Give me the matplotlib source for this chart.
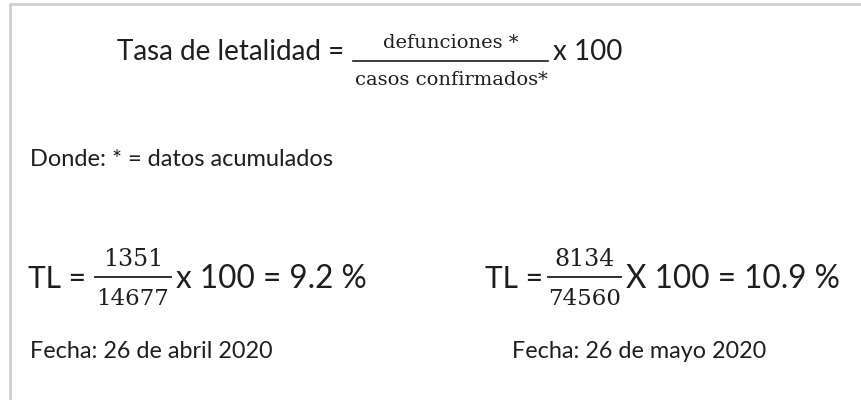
import matplotlib
matplotlib.use("Agg")
import matplotlib.pyplot as plt

# datos (acumulados)
deaths = [1351, 8134]
cases = [14677, 74560]
rates = [9.2, 10.9]
dates = ["26 de abril 2020", "26 de mayo 2020"]
times_sign = ["x", "X"]

INK = "#1e1e1e"
SANS = ["Lato", "DejaVu Sans"]
SERIF = ["DejaVu Serif"]

fig = plt.figure(figsize=(8.62, 4.0), dpi=100)
ax = fig.add_axes([0, 0, 1, 1])
ax.set_xlim(0, 862)
ax.set_ylim(400, 0)
ax.axis("off")

# marco gris (como recorte de documento)
ax.plot([10, 10, 862], [400, 4, 4], color="#cfcfcf", lw=2, solid_capstyle="butt")

# fórmula general
ax.text(117, 60, "Tasa de letalidad =", family=SANS, fontsize=20, color=INK,
        ha="left", va="baseline")
ax.plot([353, 548], [61, 61], color=INK, lw=1.2)
ax.text(451, 48, "defunciones *", family=SERIF, fontsize=14, color=INK,
        ha="center", va="baseline")
ax.text(451, 85, "casos confirmados*", family=SERIF, fontsize=14, color=INK,
        ha="center", va="baseline")
ax.text(553, 60, "x 100", family=SANS, fontsize=20, color=INK,
        ha="left", va="baseline")

ax.text(30, 166, "Donde: * = datos acumulados", family=SANS, fontsize=17,
        color=INK, ha="left", va="baseline")

# los dos cálculos
tl_x = [28, 485]
bar_x = [(95, 171), (548, 621)]
for i in range(2):
    x0, x1 = bar_x[i]
    xc = (x0 + x1) / 2
    ax.text(tl_x[i], 288, "TL =", family=SANS, fontsize=21.5, color=INK,
            ha="left", va="baseline")
    ax.plot([x0, x1], [277, 277], color=INK, lw=1.3)
    ax.text(xc, 266, f"{deaths[i]}", family=SERIF, fontsize=17, color=INK,
            ha="center", va="baseline")
    ax.text(xc, 305, f"{cases[i]}", family=SERIF, fontsize=16.5, color=INK,
            ha="center", va="baseline")
    ax.text(x1 + 5, 288, f"{times_sign[i]} 100 = {rates[i]} %", family=SANS,
            fontsize=22.7, color=INK, ha="left", va="baseline")

fecha_x = [30, 512]
for i in range(2):
    ax.text(fecha_x[i], 358, f"Fecha: {dates[i]}", family=SANS, fontsize=16.8,
            color=INK, ha="left", va="baseline")

fig.savefig("out.png", dpi=100, facecolor="white")
